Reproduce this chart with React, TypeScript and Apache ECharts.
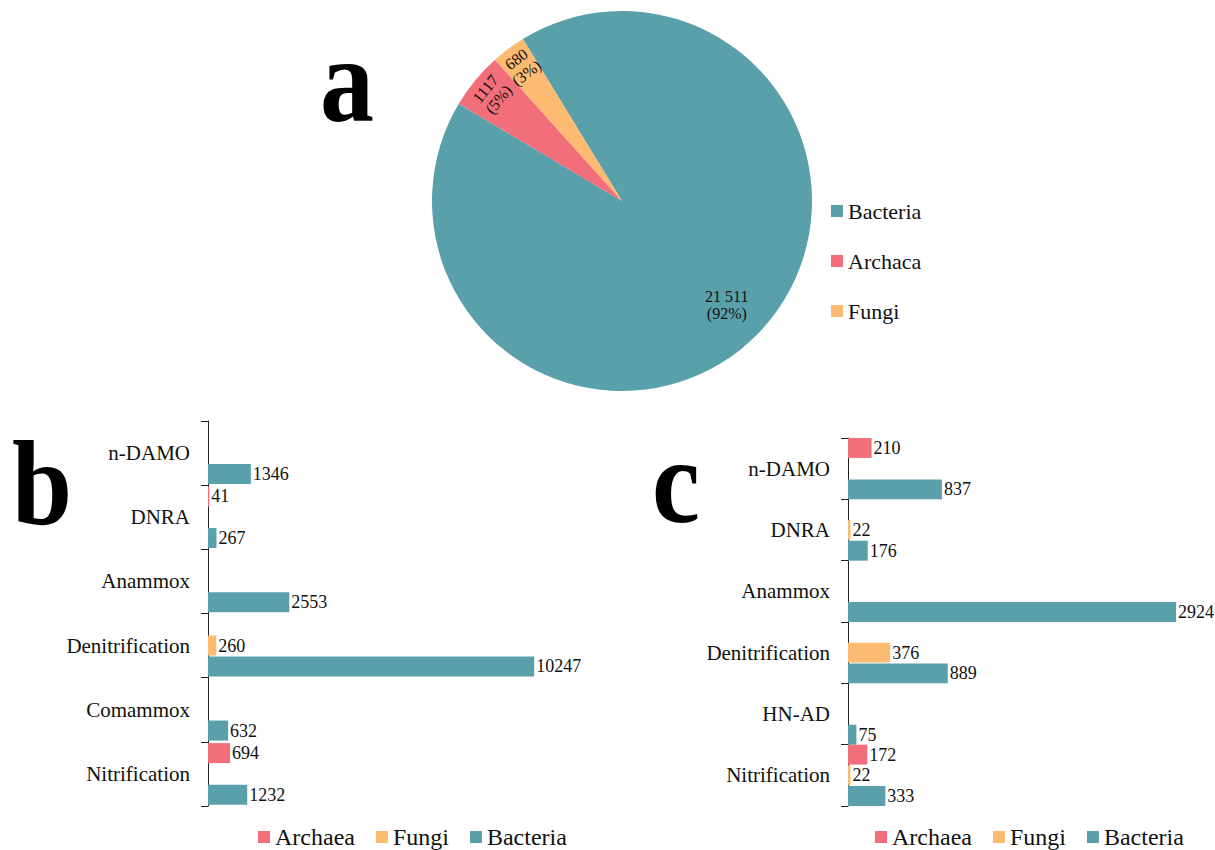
import React, { useEffect, useRef } from "react";
import * as echarts from "echarts";

// ---- data ----
const pieNames = ["Bacteria", "Archaca", "Fungi"];
const pieValues = [21511, 1117, 680];

const legendNames = ["Archaea", "Fungi", "Bacteria"];

const catsB = ["n-DAMO", "DNRA", "Anammox", "Denitrification", "Comammox", "Nitrification"];
const archaeaB = [null, 41, null, null, null, 694];
const fungiB = [null, null, null, 260, null, null];
const bacteriaB = [1346, 267, 2553, 10247, 632, 1232];

const catsC = ["n-DAMO", "DNRA", "Anammox", "Denitrification", "HN-AD", "Nitrification"];
const archaeaC = [210, null, null, null, null, 172];
const fungiC = [null, 22, null, 376, null, 22];
const bacteriaC = [837, 176, 2924, 889, 75, 333];

const panelLetters = ["a", "b", "c"];

// ---- style ----
const C_BAC = "#5AA0AA";
const C_ARC = "#F26E7A";
const C_FUN = "#FCBB70";
const FONT = "Liberation Serif";

const fmtSpace = (v: number) =>
  v >= 10000 ? String(v).replace(/\B(?=(\d{3})+(?!\d))/g, " ") : String(v);

export default function App() {
  const ref = useRef<HTMLDivElement>(null);
  useEffect(() => {
    if (!ref.current) return;
    const chart = echarts.init(ref.current, undefined, { renderer: "svg" });
    const R = 190;
    const center = [622, 201];
    const pieColors = [C_BAC, C_ARC, C_FUN];
    const pieData = pieNames.map((n, i) => ({ name: n, value: pieValues[i], itemStyle: { color: pieColors[i] } }));
    const labelFmt = (p: any) => `${fmtSpace(p.value)}\n(${p.percent}%)`;

    const barSeries = (name: string, color: string, data: any[], idx: number) => ({
      type: "bar",
      name,
      xAxisIndex: idx,
      yAxisIndex: idx,
      data,
      barGap: "4%",
      barCategoryGap: idx === 0 ? "4%" : "0%",
      itemStyle: { color },
      label: {
        show: true,
        position: "right",
        distance: 2,
        color: "#111",
        fontFamily: FONT,
        fontSize: 18,
      },
    });

    const yAxisBase = (cats: string[], gi: number) => ({
      type: "category",
      gridIndex: gi,
      data: cats,
      inverse: true,
      axisLine: { show: true, lineStyle: { color: "#222", width: 1 } },
      axisTick: { show: true, length: 7, lineStyle: { color: "#222" } },
      axisLabel: { color: "#111", fontFamily: FONT, fontSize: 21, margin: 18 },
    });

    const legendBase = (left: number) => ({
      orient: "horizontal",
      left,
      top: 820,
      itemWidth: 12,
      itemHeight: 12,
      itemGap: 21,
      icon: "rect",
      data: legendNames,
      textStyle: { fontFamily: FONT, fontSize: 24, color: "#111", lineHeight: 24 },
    });

    chart.setOption({
      animation: false,
      backgroundColor: "#fff",
      legend: [
        {
          orient: "vertical",
          left: 826,
          top: 195,
          itemWidth: 12,
          itemHeight: 12,
          itemGap: 28,
          icon: "rect",
          data: pieNames,
          textStyle: { fontFamily: FONT, fontSize: 22, color: "#111", lineHeight: 22 },
        },
        legendBase(253),
        legendBase(870),
      ],
      grid: [
        { left: 208, top: 421, width: 382, height: 385 },
        { left: 848, top: 438, width: 336.6, height: 368 },
      ],
      xAxis: [
        { type: "value", gridIndex: 0, min: 0, max: 12000, show: false },
        { type: "value", gridIndex: 1, min: 0, max: 3000, show: false },
      ],
      yAxis: [yAxisBase(catsB, 0), yAxisBase(catsC, 1)],
      graphic: [
        { letter: panelLetters[0], x: 320, y: 81 },
        { letter: panelLetters[1], x: 12, y: 484 },
        { letter: panelLetters[2], x: 652, y: 482 },
      ].map((g) => ({
        type: "text",
        x: g.x,
        y: g.y,
        scaleX: 0.9,
        style: {
          x: 0,
          y: 0,
          text: g.letter,
          fontFamily: FONT,
          fontWeight: "bold",
          fontSize: 120,
          fill: "#000",
          textVerticalAlign: "middle",
        },
      })),
      series: [
        {
          type: "pie",
          name: "main",
          center,
          radius: [0, R],
          startAngle: 121.45,
          clockwise: true,
          percentPrecision: 0,
          data: pieData,
          label: { show: false },
          labelLine: { show: false },
          emphasis: { disabled: true },
        },
        {
          type: "pie",
          name: "labelsBig",
          center,
          radius: [R * 0.52, R],
          startAngle: 121.45,
          clockwise: true,
          percentPrecision: 0,
          silent: true,
          legendHoverLink: false,
          data: pieNames.map((n, i) => ({
            name: n,
            value: pieValues[i],
            label: { show: i === 0 },
          })),
          itemStyle: { color: "rgba(0,0,0,0)" },
          label: {
            position: "inside",
            formatter: labelFmt,
            fontFamily: FONT,
            fontSize: 16,
            color: "#111",
            lineHeight: 17,
            rotate: 0,
          },
          labelLine: { show: false },
        },
        {
          type: "pie",
          name: "labelsSmall",
          center,
          radius: [R * 0.74, R],
          startAngle: 121.45,
          clockwise: true,
          percentPrecision: 0,
          silent: true,
          legendHoverLink: false,
          data: pieNames.map((n, i) => ({
            name: n,
            value: pieValues[i],
            label: { show: i !== 0 },
          })),
          itemStyle: { color: "rgba(0,0,0,0)" },
          label: {
            position: "inside",
            formatter: labelFmt,
            fontFamily: FONT,
            fontSize: 16,
            color: "#111",
            lineHeight: 17,
            rotate: "tangential",
          },
          labelLine: { show: false },
        },
        barSeries("Archaea", C_ARC, archaeaB, 0),
        barSeries("Fungi", C_FUN, fungiB, 0),
        barSeries("Bacteria", C_BAC, bacteriaB, 0),
        barSeries("Archaea", C_ARC, archaeaC, 1),
        barSeries("Fungi", C_FUN, fungiC, 1),
        barSeries("Bacteria", C_BAC, bacteriaC, 1),
      ],
    });
    return () => chart.dispose();
  }, []);
  return (
    <div
      ref={ref}
      style={{ position: "absolute", left: 0, top: 0, width: 1215, height: 850 }}
    />
  );
}
